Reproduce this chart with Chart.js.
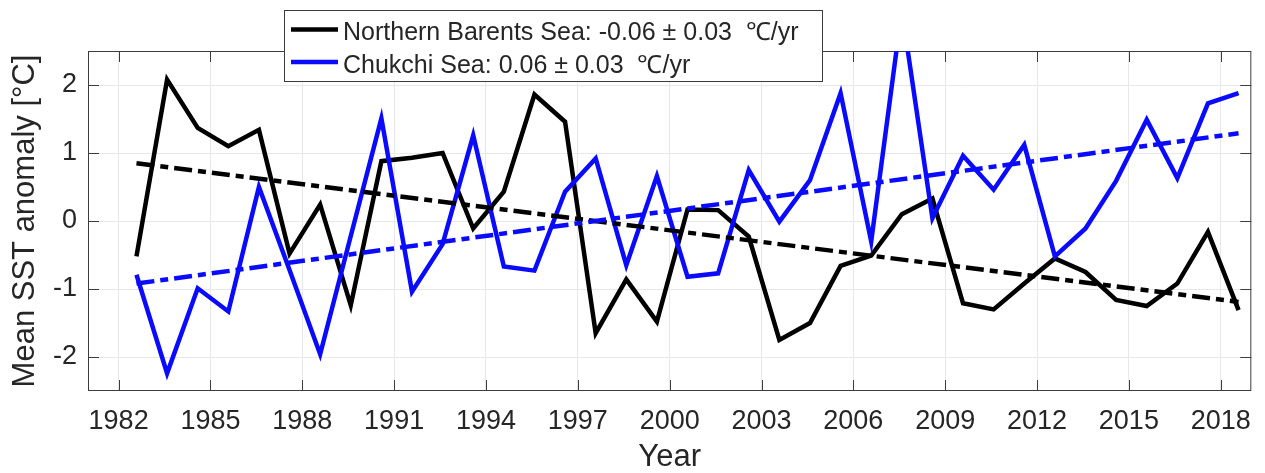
<!DOCTYPE html>
<html>
<head>
<meta charset="utf-8">
<title>Mean SST anomaly</title>
<script src="https://cdn.jsdelivr.net/npm/chart.js@4.4.0/dist/chart.umd.min.js"></script>
<style>
    html, body { margin: 0; padding: 0; background: #fff; }
    #sstChart { display: block; }
</style>
</head>
<body>
<canvas id="sstChart" width="1265" height="473"></canvas>
<script>
// Data
const years = [
    1982, 1983, 1984, 1985, 1986, 1987, 1988, 1989, 1990, 1991,
    1992, 1993, 1994, 1995, 1996, 1997, 1998, 1999, 2000, 2001,
    2002, 2003, 2004, 2005, 2006, 2007, 2008, 2009, 2010, 2011,
    2012, 2013, 2014, 2015, 2016, 2017, 2018
];
const barentsSST = [
    -0.52, 2.08, 1.37, 1.10, 1.34, -0.48, 0.24, -1.24, 0.88, 0.93,
    1.00, -0.11, 0.43, 1.86, 1.46, -1.65, -0.86, -1.48, 0.17, 0.16,
    -0.23, -1.75, -1.50, -0.66, -0.51, 0.10, 0.33, -1.21, -1.30, -0.92,
    -0.55, -0.75, -1.16, -1.25, -0.92, -0.16, -1.31
];
const chukchiSST = [
    -0.79, -2.24, -0.99, -1.33, 0.50, -0.72, -1.96, -0.22, 1.51, -1.04,
    -0.34, 1.26, -0.67, -0.73, 0.43, 0.92, -0.65, 0.66, -0.82, -0.77,
    0.75, -0.01, 0.60, 1.88, -0.30, 3.10, 0.04, 0.96, 0.46, 1.12,
    -0.52, -0.11, 0.59, 1.49, 0.63, 1.73, 1.88
];
// trend lines: value at first and last year
const barentsTrend = [0.85, -1.19];
const chukchiTrend = [-0.92, 1.29];

const xTicks = [1982, 1985, 1988, 1991, 1994, 1997, 2000, 2003, 2006, 2009, 2012, 2015, 2018];
const yTicks = [-2, -1, 0, 1, 2];

const seriesLabels = [
    'Northern Barents Sea: -0.06 \u00b1 0.03  \u2103/yr',
    'Chukchi Sea: 0.06 \u00b1 0.03  \u2103/yr'
];

// Styles
const FONT = '"Liberation Sans", Arial, Helvetica, sans-serif';
const TEXT_COLOR = '#262626';
const AXIS_COLOR = '#3c3c3c';
const GRID_COLOR = '#e8e8e8';
const BLACK = '#000000';
const BLUE = '#0a0aff';
const LINE_W = 4.5;
const TICK_LEN = 11;
const SAMPLE_MONTH = 7 / 12; // annual values plotted at August

const xValues = years.map(y => y + SAMPLE_MONTH);
const trendX = [xValues[0], xValues[xValues.length - 1]];

function toPoints(xs, ys) {
    return ys.map((v, i) => ({ x: xs[i], y: v }));
}

// MATLAB-style box with inward ticks on all sides
const boxAxes = {
    id: 'boxAxes',
    beforeDatasetsDraw(chart) {
        const { ctx, chartArea: a, scales: { x, y } } = chart;
        ctx.save();
        ctx.strokeStyle = AXIS_COLOR;
        ctx.lineWidth = 1;
        ctx.beginPath();
        xTicks.forEach(v => {
            const px = Math.round(x.getPixelForValue(v)) + 0.5;
            ctx.moveTo(px, a.bottom);
            ctx.lineTo(px, a.bottom - TICK_LEN);
            ctx.moveTo(px, a.top);
            ctx.lineTo(px, a.top + TICK_LEN);
        });
        yTicks.forEach(v => {
            const py = Math.round(y.getPixelForValue(v)) + 0.5;
            ctx.moveTo(a.left, py);
            ctx.lineTo(a.left + TICK_LEN, py);
            ctx.moveTo(a.right, py);
            ctx.lineTo(a.right - TICK_LEN, py);
        });
        ctx.stroke();
        ctx.strokeRect(a.left + 0.5, a.top + 0.5, a.right - a.left - 1, a.bottom - a.top - 1);
        ctx.restore();
    }
};

// Boxed legend sitting over the top edge of the axes
const boxLegend = {
    id: 'boxLegend',
    afterDatasetsDraw(chart) {
        const ctx = chart.ctx;
        const box = { left: 284, top: 10, width: 538, height: 71 };
        const rows = [29.5, 62];
        const baselines = [39.5, 72.5];
        const colors = [BLACK, BLUE];
        ctx.save();
        ctx.fillStyle = '#fff';
        ctx.fillRect(box.left, box.top, box.width, box.height);
        ctx.strokeStyle = AXIS_COLOR;
        ctx.lineWidth = 1;
        ctx.strokeRect(box.left + 0.5, box.top + 0.5, box.width, box.height);
        ctx.font = '25px ' + FONT;
        ctx.textBaseline = 'alphabetic';
        ctx.textAlign = 'left';
        seriesLabels.forEach((label, i) => {
            ctx.strokeStyle = colors[i];
            ctx.lineWidth = LINE_W;
            ctx.beginPath();
            ctx.moveTo(291, rows[i]);
            ctx.lineTo(338, rows[i]);
            ctx.stroke();
            ctx.fillStyle = TEXT_COLOR;
            ctx.fillText(label, 343, baselines[i]);
        });
        ctx.restore();
    }
};

const lineDefaults = {
    pointRadius: 0,
    borderWidth: LINE_W,
    fill: false,
    tension: 0,
    clip: 0
};

new Chart(document.getElementById('sstChart'), {
    type: 'line',
    data: {
        datasets: [
            { ...lineDefaults, label: seriesLabels[0], data: toPoints(xValues, barentsSST), borderColor: BLACK, order: 4 },
            { ...lineDefaults, label: seriesLabels[1], data: toPoints(xValues, chukchiSST), borderColor: BLUE, order: 3 },
            { ...lineDefaults, label: 'Barents trend', data: toPoints(trendX, barentsTrend), borderColor: BLACK, borderDash: [18, 6, 8, 6], order: 2 },
            { ...lineDefaults, label: 'Chukchi trend', data: toPoints(trendX, chukchiTrend), borderColor: BLUE, borderDash: [18, 6, 8, 6], order: 1 }
        ]
    },
    options: {
        responsive: false,
        animation: false,
        devicePixelRatio: 1,
        layout: { padding: { top: 51, right: 10, left: 0, bottom: 0 } },
        plugins: {
            legend: { display: false },
            tooltip: { enabled: false }
        },
        scales: {
            x: {
                type: 'linear',
                min: 1981,
                max: 2019,
                afterBuildTicks: scale => { scale.ticks = xTicks.map(v => ({ value: v })); },
                afterFit: scale => { scale.height = 82; },
                grid: { color: GRID_COLOR, drawTicks: false },
                border: { display: false },
                ticks: {
                    callback: v => String(v),
                    color: TEXT_COLOR,
                    font: { family: FONT, size: 27 },
                    padding: 14,
                    maxRotation: 0,
                    autoSkip: false
                },
                title: {
                    display: true,
                    text: 'Year',
                    color: TEXT_COLOR,
                    font: { family: FONT, size: 31, lineHeight: 1 },
                    padding: 0
                }
            },
            y: {
                min: -2.5,
                max: 2.5,
                afterBuildTicks: scale => { scale.ticks = yTicks.map(v => ({ value: v })); },
                afterFit: scale => { scale.width = 88; },
                grid: { color: GRID_COLOR, drawTicks: false },
                border: { display: false },
                ticks: {
                    callback: v => String(v),
                    color: TEXT_COLOR,
                    font: { family: FONT, size: 27 },
                    padding: 11
                },
                title: {
                    display: true,
                    text: 'Mean SST anomaly [\u00b0C]',
                    color: TEXT_COLOR,
                    font: { family: FONT, size: 31, lineHeight: 1 },
                    padding: { top: 10, bottom: 0 }
                }
            }
        }
    },
    plugins: [boxAxes, boxLegend]
});
</script>
</body>
</html>
